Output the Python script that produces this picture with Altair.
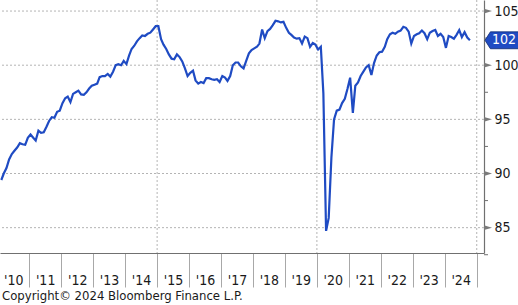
import altair as alt
import pandas as pd

# ---- data (monthly, Feb 2010 .. Oct 2024) ----
v2010 = [89.4, 90.0, 90.5, 91.3, 91.8, 92.1, 92.4, 92.8, 92.7, 92.65, 93.3]  # Feb-Dec
v2011 = [93.6, 93.3, 93.05, 93.95, 93.75, 93.8, 94.3, 94.85, 95.2, 95.15, 95.7, 95.8]
v2012 = [96.5, 96.95, 97.1, 96.6, 97.35, 97.5, 97.65, 97.3, 97.26, 97.5, 97.85, 98.1]
v2013 = [98.2, 98.3, 98.9, 99.0, 99.0, 99.2, 98.95, 99.4, 100.0, 100.1, 100.0, 100.4]
v2014 = [100.1, 100.9, 101.5, 101.8, 102.2, 102.5, 102.75, 102.7, 102.9, 103.0, 103.3, 103.6]
v2015 = [103.6, 102.4, 101.9, 101.5, 101.0, 100.6, 100.55, 101.0, 100.75, 100.35, 99.7, 99.0]
v2016 = [99.3, 99.5, 98.6, 98.3, 98.45, 98.35, 98.8, 98.8, 98.7, 98.65, 98.7, 98.45]
v2017 = [99.0, 98.85, 98.55, 99.0, 100.0, 100.25, 100.25, 99.9, 99.7, 100.4, 101.1, 101.4]
v2018 = [101.55, 101.7, 102.0, 103.3, 102.5, 103.15, 103.35, 103.7, 104.1, 104.05, 103.95, 104.0]
v2019 = [103.45, 103.0, 102.8, 102.55, 102.45, 102.5, 102.0, 102.65, 102.5, 101.7, 102.05, 101.9]
v2020 = [101.45, 101.7, 97.4, 84.7, 85.9, 91.5, 95.0, 95.8, 95.9, 96.5, 96.9, 97.8]
v2021 = [98.85, 95.6, 98.1, 98.4, 99.0, 99.4, 99.8, 100.0, 99.1, 100.2, 100.9, 101.2]
v2022 = [101.25, 101.7, 102.4, 102.85, 103.0, 102.9, 103.1, 103.2, 103.55, 103.45, 103.1, 102.0]
v2023 = [102.7, 102.85, 102.95, 103.2, 102.95, 102.4, 103.0, 103.15, 103.25, 102.7, 102.9, 102.6]
v2024 = [101.6, 102.7, 102.6, 102.45, 102.8, 103.25, 102.6, 103.05, 102.55, 102.3]  # Jan-Oct

y_ticks_major = [85, 90, 95, 100, 105]
y_ticks_minor = [82.5, 87.5, 92.5, 97.5, 102.5]
label_years = list(range(2010, 2025))
tick_years = list(range(2011, 2026))
grid_years = [2015, 2020, 2025]
copyright_text = "Copyright\u00a9 2024 Bloomberg Finance L.P."

values = (v2010 + v2011 + v2012 + v2013 + v2014 + v2015 + v2016 + v2017 +
          v2018 + v2019 + v2020 + v2021 + v2022 + v2023 + v2024)
dates = pd.date_range("2010-02-01", periods=len(values), freq="MS") + pd.Timedelta(days=14)
df = pd.DataFrame({"date": dates.strftime("%Y-%m-%d"), "value": values})
last_df = df.tail(1).copy()
last_df["label"] = [str(int(round(v))) for v in last_df["value"]]

# ---- style ----
W, H = 484, 253
BLUE = "#1f4bc3"
FONT = "DejaVu Sans Condensed"
AXIS_C = "#707070"
GRID_C = "#b4b4b4"
TXT_C = "#1a1a1a"

x_scale = alt.Scale(type="utc", domain=[alt.DateTime(year=2010, month=1, date=31, utc=True),
                                        alt.DateTime(year=2025, month=3, date=25, utc=True)])
y_scale = alt.Scale(domain=[82.66, 106.02], nice=False, zero=False)

y_axis = alt.Axis(orient="right", values=y_ticks_major, ticks=False, format="d",
                  domainColor=AXIS_C, domainWidth=1.2, grid=False,
                  labelFont=FONT, labelFontSize=14, labelColor=TXT_C, labelPadding=10,
                  labelBaseline="middle", labelOverlap=False, labelFlush=False)

hgrid_df = pd.DataFrame({"v": y_ticks_major})
hgrid = alt.Chart(hgrid_df).mark_rule(color=GRID_C, strokeDash=[2, 2], strokeWidth=1).encode(
    y=alt.Y("v:Q", scale=y_scale, title=None, axis=y_axis)
)

vgrid_df = pd.DataFrame({"date": [f"{y}-01-01" for y in grid_years]})
vgrid = alt.Chart(vgrid_df).mark_rule(color=GRID_C, strokeDash=[2, 2], strokeWidth=1).encode(
    x=alt.X("date:T", scale=x_scale, title=None,
            axis=alt.Axis(orient="bottom", values=[alt.DateTime(year=y, month=7, date=1, utc=True) for y in label_years],
                          format="'%y", ticks=False, domain=False, grid=False,
                          labelFont=FONT, labelFontSize=14, labelColor=TXT_C,
                          labelPadding=31, labelBaseline="alphabetic", labelFlush=False,
                          labelOverlap=False))
)

line = alt.Chart(df).mark_line(color=BLUE, strokeWidth=2.2, clip=True).encode(
    x=alt.X("date:T", scale=x_scale, title=None,
            axis=alt.Axis(orient="bottom", values=[alt.DateTime(year=y, month=1, date=1, utc=True) for y in tick_years],
                          labels=False, tickSize=34, tickColor="#a8a8a8", tickWidth=1,
                          domainColor=AXIS_C, domainWidth=1.2, grid=False)),
    y=alt.Y("value:Q", scale=y_scale, title=None, axis=y_axis)
)

minor_df = pd.DataFrame({"v": y_ticks_minor})
minor = alt.Chart(minor_df).mark_rule(color=AXIS_C, strokeWidth=1, clip=False).encode(
    x=alt.value(W), x2=alt.value(W + 4), y=alt.Y("v:Q", scale=y_scale, axis=y_axis)
)

arrows = alt.Chart(hgrid_df).mark_point(
    shape="M-1,-0.6L1,0L-1,0.6Z", filled=True, color="#7a7a7a", size=64, opacity=1, clip=False
).encode(x=alt.value(W + 4), y=alt.Y("v:Q", scale=y_scale, axis=y_axis))

callout = alt.Chart(last_df).mark_point(
    shape="M-1,0L-0.7,-0.47L1,-0.47L1,0.47L-0.7,0.47Z", filled=True, fill=BLUE,
    stroke="#0f2a70", strokeWidth=0.8, size=36 * 36, opacity=1, clip=False
).encode(x=alt.value(W + 19), y=alt.Y("value:Q", scale=y_scale, axis=y_axis))

callout_text = alt.Chart(last_df).mark_text(
    color="white", font=FONT, fontSize=14, align="center", baseline="middle", clip=False
).encode(x=alt.value(W + 20), y=alt.Y("value:Q", scale=y_scale, axis=y_axis), text="label:N")

copyright_df = pd.DataFrame({"t": [copyright_text]})
copyright = alt.Chart(copyright_df).mark_text(
    align="left", baseline="middle", font=FONT, fontSize=13, color=TXT_C, clip=False
).encode(x=alt.value(2), y=alt.value(H + 43), text="t:N")

chart = alt.layer(hgrid, vgrid, line, minor, arrows, callout, callout_text, copyright).resolve_axis(
    x="independent"
).properties(
    width=W, height=H,
    autosize=alt.AutoSizeParams(type="none"),
    padding={"left": 0, "top": 0, "right": 518 - W, "bottom": 305 - H},
    background="white"
).configure_view(stroke=None)

chart.save("out.html", embed_options={"renderer": "svg", "actions": False})
